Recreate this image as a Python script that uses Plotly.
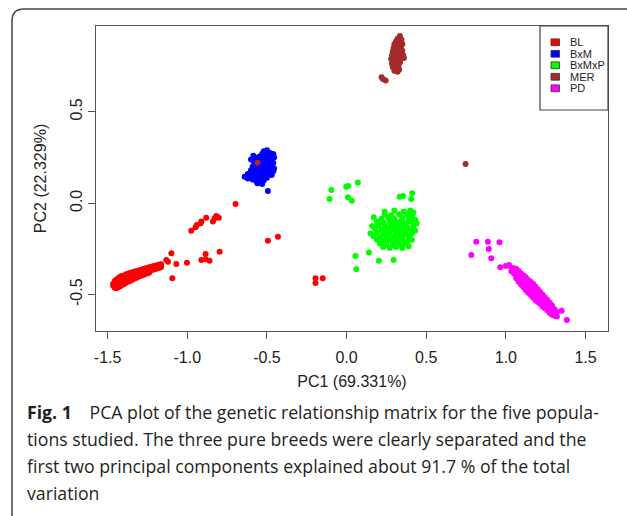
import plotly.graph_objects as go

# ---------------- data ----------------
groups = ["BL", "BxM", "BxMxP", "MER", "PD"]
colors = ["#FF0000", "#0000FF", "#00FF00", "#A52A2A", "#FF00FF"]

# (PC1, PC2) pairs per population
BL_pts = [
    (-1.465, -0.440), (-1.465, -0.452),
    (-1.455, -0.425), (-1.455, -0.445), (-1.455, -0.462),
    (-1.445, -0.418), (-1.445, -0.435), (-1.445, -0.452), (-1.445, -0.465),
    (-1.435, -0.412), (-1.435, -0.428), (-1.435, -0.445), (-1.435, -0.460),
    (-1.425, -0.405), (-1.425, -0.420), (-1.425, -0.437), (-1.425, -0.455),
    (-1.415, -0.400), (-1.415, -0.416), (-1.415, -0.432), (-1.415, -0.450),
    (-1.405, -0.398), (-1.405, -0.412), (-1.405, -0.428), (-1.405, -0.445),
    (-1.395, -0.395), (-1.395, -0.408), (-1.395, -0.423), (-1.395, -0.440),
    (-1.385, -0.390), (-1.385, -0.404), (-1.385, -0.418), (-1.385, -0.435),
    (-1.375, -0.386), (-1.375, -0.400), (-1.375, -0.414), (-1.375, -0.430),
    (-1.360, -0.382), (-1.360, -0.395), (-1.360, -0.410), (-1.360, -0.425),
    (-1.345, -0.378), (-1.345, -0.390), (-1.345, -0.404), (-1.345, -0.418),
    (-1.330, -0.374), (-1.330, -0.386), (-1.330, -0.398), (-1.330, -0.412),
    (-1.315, -0.370), (-1.315, -0.382), (-1.315, -0.394), (-1.315, -0.406),
    (-1.300, -0.366), (-1.300, -0.377), (-1.300, -0.389), (-1.300, -0.400),
    (-1.285, -0.362), (-1.285, -0.373), (-1.285, -0.384), (-1.285, -0.395),
    (-1.270, -0.358), (-1.270, -0.369), (-1.270, -0.380), (-1.270, -0.390),
    (-1.255, -0.354), (-1.255, -0.365), (-1.255, -0.375), (-1.255, -0.385),
    (-1.240, -0.350), (-1.240, -0.360), (-1.240, -0.370), (-1.240, -0.380),
    (-1.225, -0.347), (-1.225, -0.356), (-1.225, -0.366),
    (-1.210, -0.343), (-1.210, -0.352), (-1.210, -0.362),
    (-1.195, -0.340), (-1.195, -0.349), (-1.195, -0.358),
    (-1.180, -0.337), (-1.180, -0.346), (-1.180, -0.354),
    (-1.165, -0.334), (-1.165, -0.343), (-1.165, -0.350),
    (-1.100, -0.274), (-1.132, -0.310), (-1.121, -0.320), (-1.069, -0.332), (-1.002, -0.325),
    (-1.094, -0.410), (-0.885, -0.277), (-0.912, -0.310), (-0.885, -0.306), (-0.860, -0.314),
    (-0.797, -0.265), (-0.975, -0.150), (-0.948, -0.131), (-0.940, -0.119), (-0.912, -0.100),
    (-0.916, -0.109), (-0.881, -0.079), (-0.839, -0.100), (-0.828, -0.082), (-0.818, -0.070),
    (-0.802, -0.079), (-0.697, -0.004), (-0.494, -0.205), (-0.431, -0.183),
    (-0.195, -0.437), (-0.195, -0.411), (-0.150, -0.411),
]

BxM_pts = [
    (-0.520, 0.285), (-0.500, 0.290), (-0.480, 0.275), (-0.460, 0.270), (-0.455, 0.250),
    (-0.530, 0.270), (-0.550, 0.255), (-0.510, 0.260), (-0.490, 0.255), (-0.470, 0.245),
    (-0.570, 0.240), (-0.540, 0.240), (-0.520, 0.235), (-0.500, 0.235), (-0.480, 0.225),
    (-0.460, 0.220), (-0.580, 0.220), (-0.560, 0.215), (-0.530, 0.215), (-0.510, 0.210),
    (-0.490, 0.205), (-0.470, 0.200), (-0.455, 0.190), (-0.590, 0.200), (-0.570, 0.195),
    (-0.550, 0.190), (-0.520, 0.190), (-0.500, 0.185), (-0.480, 0.180), (-0.460, 0.175),
    (-0.600, 0.180), (-0.580, 0.175), (-0.560, 0.170), (-0.540, 0.165), (-0.510, 0.165),
    (-0.490, 0.160), (-0.470, 0.155), (-0.620, 0.160), (-0.600, 0.155), (-0.580, 0.150),
    (-0.560, 0.145), (-0.530, 0.145), (-0.500, 0.140), (-0.640, 0.145), (-0.620, 0.135),
    (-0.590, 0.130), (-0.570, 0.125), (-0.550, 0.120), (-0.520, 0.125), (-0.560, 0.110),
    (-0.530, 0.105), (-0.494, 0.067), (-0.600, 0.240), (-0.585, 0.260), (-0.505, 0.275),
    (-0.475, 0.265), (-0.540, 0.200), (-0.505, 0.200), (-0.525, 0.250), (-0.545, 0.135),
    (-0.515, 0.150), (-0.565, 0.230), (-0.485, 0.240),
]

BxMxP_pts = [
    (0.30, -0.040), (0.36, -0.045), (0.40, -0.040), (0.42, -0.050), (0.24, -0.060), (0.28, -0.065),
    (0.33, -0.060), (0.38, -0.060), (0.41, -0.070), (0.17, -0.077), (0.22, -0.085), (0.26, -0.080),
    (0.30, -0.085), (0.35, -0.080), (0.39, -0.085), (0.43, -0.090), (0.19, -0.100), (0.23, -0.105),
    (0.27, -0.100), (0.31, -0.105), (0.34, -0.100), (0.37, -0.110), (0.40, -0.100), (0.44, -0.110),
    (0.16, -0.125), (0.20, -0.120), (0.24, -0.125), (0.28, -0.120), (0.32, -0.125), (0.35, -0.120),
    (0.38, -0.130), (0.42, -0.125), (0.18, -0.140), (0.22, -0.145), (0.26, -0.140), (0.30, -0.145),
    (0.33, -0.140), (0.36, -0.145), (0.40, -0.140), (0.43, -0.150), (0.15, -0.165), (0.19, -0.160),
    (0.23, -0.165), (0.27, -0.160), (0.31, -0.165), (0.34, -0.160), (0.37, -0.170), (0.41, -0.165),
    (0.17, -0.180), (0.21, -0.185), (0.25, -0.180), (0.29, -0.185), (0.32, -0.180), (0.35, -0.190),
    (0.39, -0.185), (0.19, -0.200), (0.23, -0.205), (0.27, -0.200), (0.31, -0.205), (0.34, -0.200),
    (0.38, -0.210), (0.41, -0.200), (0.21, -0.220), (0.25, -0.225), (0.29, -0.220), (0.33, -0.225),
    (0.36, -0.220), (0.23, -0.240), (0.27, -0.245), (0.31, -0.240), (0.35, -0.245), (0.39, -0.235),
    (0.25, -0.150), (0.29, -0.130), (0.33, -0.170), (0.37, -0.150), (0.28, -0.095), (0.32, -0.115),
    (0.35, -0.205), (0.26, -0.195), (0.30, -0.230),
    (0.140, -0.270), (0.203, -0.314), (0.295, -0.310), (0.056, -0.288), (0.061, -0.361),
    (-0.096, 0.073), (-0.107, 0.024), (-0.002, 0.091), (0.010, 0.095), (0.071, 0.113),
    (0.008, 0.033), (0.033, 0.014), (0.333, 0.036), (0.354, 0.040), (0.412, 0.055),
    (0.406, 0.024), (0.239, -0.046),
]

MER_pts = [
    (0.335, 0.915), (0.320, 0.900), (0.345, 0.895), (0.310, 0.885), (0.330, 0.880), (0.350, 0.870),
    (0.300, 0.870), (0.320, 0.865), (0.340, 0.855), (0.295, 0.850), (0.315, 0.845), (0.335, 0.840),
    (0.290, 0.830), (0.310, 0.825), (0.330, 0.820), (0.355, 0.810), (0.285, 0.810), (0.300, 0.800),
    (0.320, 0.800), (0.340, 0.790), (0.280, 0.790), (0.295, 0.780), (0.315, 0.775), (0.335, 0.770),
    (0.285, 0.765), (0.305, 0.755), (0.325, 0.750), (0.290, 0.745), (0.310, 0.735), (0.330, 0.730),
    (0.300, 0.725), (0.320, 0.720), (0.360, 0.795), (0.350, 0.835), (0.220, 0.690), (0.228, 0.680),
    (0.245, 0.672), (0.747, 0.215), (-0.559, 0.222),
]

PD_pts = [
    (1.035, -0.355), (1.035, -0.372),
    (1.050, -0.355), (1.050, -0.370), (1.050, -0.385),
    (1.065, -0.360), (1.065, -0.380), (1.065, -0.395), (1.065, -0.410),
    (1.080, -0.370), (1.080, -0.390), (1.080, -0.410), (1.080, -0.430),
    (1.095, -0.385), (1.095, -0.405), (1.095, -0.420), (1.095, -0.445),
    (1.110, -0.395), (1.110, -0.418), (1.110, -0.435), (1.110, -0.460),
    (1.125, -0.405), (1.125, -0.430), (1.125, -0.450), (1.125, -0.475),
    (1.140, -0.420), (1.140, -0.445), (1.140, -0.460), (1.140, -0.490),
    (1.155, -0.430), (1.155, -0.455), (1.155, -0.475), (1.155, -0.500),
    (1.170, -0.440), (1.170, -0.470), (1.170, -0.490), (1.170, -0.515),
    (1.185, -0.455), (1.185, -0.480), (1.185, -0.500), (1.185, -0.530),
    (1.200, -0.470), (1.200, -0.495), (1.200, -0.515), (1.200, -0.540),
    (1.215, -0.485), (1.215, -0.510), (1.215, -0.530), (1.215, -0.550),
    (1.230, -0.500), (1.230, -0.520), (1.230, -0.540), (1.230, -0.565),
    (1.245, -0.515), (1.245, -0.535), (1.245, -0.555), (1.245, -0.575),
    (1.260, -0.530), (1.260, -0.550), (1.260, -0.565), (1.260, -0.585),
    (1.275, -0.545), (1.275, -0.565), (1.275, -0.580), (1.275, -0.600),
    (1.290, -0.560), (1.290, -0.580), (1.290, -0.595), (1.290, -0.610),
    (1.305, -0.580), (1.305, -0.595), (1.305, -0.615),
    (1.320, -0.595), (1.320, -0.620),
    (1.350, -0.588), (1.383, -0.639), (0.814, -0.210), (0.887, -0.210), (0.960, -0.213),
    (0.783, -0.283), (0.893, -0.250), (0.908, -0.301), (0.965, -0.350), (1.000, -0.343),
    (1.020, -0.338),
]

xticks = [-1.5, -1.0, -0.5, 0.0, 0.5, 1.0, 1.5]
xtick_labels = ["-1.5", "-1.0", "-0.5", "0.0", "0.5", "1.0", "1.5"]
yticks = [-0.5, 0.0, 0.5]
ytick_labels = ["-0.5", "0.0", "0.5"]

x_title = "PC1 (69.331%)"
y_title = "PC2 (22.329%)"
caption_lines = [
    "<b>Fig. 1</b>\u2003PCA plot of the genetic relationship matrix for the five popula-",
    "tions studied. The three pure breeds were clearly separated and the",
    "first two principal components explained about 91.7 % of the total",
    "variation",
]

# ---------------- figure ----------------
W, H = 627, 516
L, R, T, B = 96, 19, 26, 185
PW, PH = W - L - R, H - T - B


def px(xp):
    return (xp - L) / PW


def py(yp):
    return (H - B - yp) / PH


series = [BL_pts, BxM_pts, BxMxP_pts, MER_pts, PD_pts]

fig = go.Figure()
for name, col, pts in zip(groups, colors, series):
    xs = [p[0] for p in pts]
    ys = [p[1] for p in pts]
    fig.add_trace(go.Scatter(x=xs, y=ys, mode="markers", name=name, showlegend=False,
                             marker=dict(color=col, size=6, line=dict(width=0))))

axis_font = dict(family="Liberation Sans, Arial, sans-serif", size=16, color="#222")
fig.update_xaxes(range=[-1.573, 1.641], tickvals=xticks, ticktext=xtick_labels,
                 showgrid=False, zeroline=False, showline=True, mirror=True,
                 linecolor="#555", linewidth=1.2, ticks="outside", ticklen=7, tickwidth=1.2,
                 tickcolor="#555", tickfont=axis_font, ticklabelstandoff=5,
                 title=dict(text=x_title, font=axis_font, standoff=10))
fig.update_yaxes(range=[-0.699, 0.970], tickvals=yticks, ticktext=ytick_labels,
                 showgrid=False, zeroline=False, showline=True, mirror=True,
                 linecolor="#555", linewidth=1.2, ticks="outside", ticklen=7, tickwidth=1.2,
                 tickcolor="#555", tickfont=axis_font, tickangle=-90, ticklabelstandoff=0,
                 title=dict(text=y_title, font=axis_font, standoff=16))

# manual legend (top-right, R style)
lx0, lx1, ly0, ly1 = 540, 608, 26, 110
fig.add_shape(type="rect", xref="paper", yref="paper", x0=px(lx0), x1=px(lx1), y0=py(ly1), y1=py(ly0),
              line=dict(color="#444", width=1.2), fillcolor="white", layer="above")
for i, (name, col) in enumerate(zip(groups, colors)):
    yc = 42.3 + i * 11.5
    fig.add_shape(type="rect", xref="paper", yref="paper", x0=px(551), x1=px(559.5),
                  y0=py(yc + 3.4), y1=py(yc - 3.4), fillcolor=col,
                  line=dict(color="#333", width=0.8), layer="above")
    fig.add_annotation(xref="paper", yref="paper", x=px(568), y=py(yc), text=name,
                       showarrow=False, xanchor="left", yanchor="middle",
                       font=dict(family="Liberation Sans, Arial, sans-serif", size=11, color="#222"))

# outer rounded frame (cut by the right and bottom edges)
fx0, fy0, rad = 12, 9, 12
path = (f"M {px(fx0)},{py(H + 20)} L {px(fx0)},{py(fy0 + rad)} "
        f"Q {px(fx0)},{py(fy0)} {px(fx0 + rad)},{py(fy0)} L {px(W + 20)},{py(fy0)}")
fig.add_shape(type="path", xref="paper", yref="paper", path=path,
              line=dict(color="#444", width=1.5))

# caption
cap_y = [411.7, 438.8, 465.8, 493.0]
for txt, yc in zip(caption_lines, cap_y):
    fig.add_annotation(xref="paper", yref="paper", x=px(25), y=py(yc), text=txt,
                       showarrow=False, xanchor="left", yanchor="middle",
                       font=dict(family="Open Sans, sans-serif", size=17.7, color="#231f20"))

fig.update_layout(width=W, height=H, margin=dict(l=L, r=R, t=T, b=B, autoexpand=False),
                  plot_bgcolor="white", paper_bgcolor="white", showlegend=False)

fig.write_html("out.html")
